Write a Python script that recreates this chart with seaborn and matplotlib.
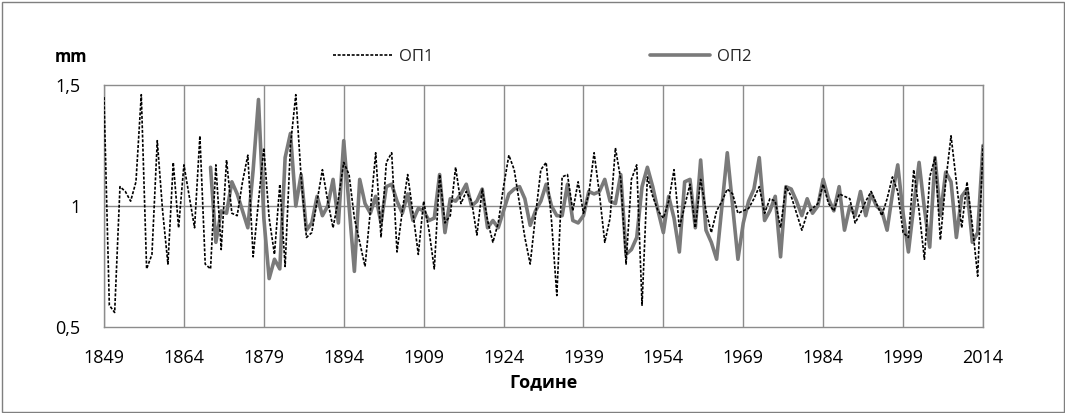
import numpy as np
import pandas as pd
import matplotlib
matplotlib.use("Agg")
import matplotlib.pyplot as plt
from matplotlib.patches import Rectangle
import seaborn as sns

# ---------------- data ----------------
years_op1 = list(range(1849, 2015))
op1 = [1.45, 0.59, 0.56, 1.08, 1.06, 1.02, 1.10, 1.46, 0.74, 0.80,   # 1849-1858
       1.27, 0.98, 0.76, 1.18, 0.91, 1.17, 1.04, 0.91, 1.29, 0.76,   # 1859-1868
       0.74, 1.17, 0.82, 1.19, 0.97, 0.96, 1.10, 1.21, 0.79, 1.02,   # 1869-1878
       1.24, 0.95, 0.80, 1.09, 0.75, 1.25, 1.46, 1.12, 0.87, 0.89,   # 1879-1888
       1.02, 1.15, 1.02, 0.91, 1.03, 1.18, 1.13, 0.95, 0.85, 0.75,   # 1889-1898
       0.98, 1.22, 0.87, 1.18, 1.22, 0.81, 0.98, 1.13, 0.97, 0.80,   # 1899-1908
       1.02, 0.90, 0.74, 1.13, 0.93, 0.96, 1.16, 1.01, 1.06, 1.02,   # 1909-1918
       0.88, 1.07, 0.94, 0.85, 0.93, 1.08, 1.21, 1.15, 1.01, 0.87,   # 1919-1928
       0.76, 0.96, 1.15, 1.18, 0.94, 0.63, 1.12, 1.13, 0.98, 1.10,   # 1929-1938
       0.97, 1.05, 1.22, 1.05, 0.85, 0.95, 1.24, 1.11, 0.76, 1.11,   # 1939-1948
       1.17, 0.59, 1.12, 1.04, 0.98, 0.95, 1.02, 1.15, 0.91, 1.00,   # 1949-1958
       1.09, 0.91, 1.11, 0.98, 0.89, 0.98, 1.02, 1.07, 1.05, 0.97,   # 1959-1968
       0.98, 0.99, 1.03, 1.08, 0.97, 1.03, 1.02, 0.91, 1.08, 1.04,   # 1969-1978
       0.97, 0.90, 0.97, 0.99, 1.01, 1.09, 1.01, 0.98, 1.05, 1.04,   # 1979-1988
       1.03, 0.93, 0.97, 1.02, 1.06, 1.01, 0.96, 1.03, 1.12, 1.06,   # 1989-1998
       0.89, 0.87, 1.15, 0.98, 0.78, 1.12, 1.20, 0.86, 1.10, 1.29,   # 1999-2008
       1.10, 0.91, 1.10, 0.92, 0.71, 1.25]                           # 2009-2014

years_op2 = list(range(1869, 2015))
op2 = [1.16, 0.85, 0.98, 0.97, 1.10, 1.05, 0.98, 0.91, 1.15, 1.44,   # 1869-1878
       0.95, 0.70, 0.78, 0.74, 1.20, 1.30, 1.00, 1.13, 0.90, 0.93,   # 1879-1888
       1.04, 0.96, 1.00, 1.11, 0.93, 1.27, 1.00, 0.73, 1.11, 1.01,   # 1889-1898
       0.97, 1.04, 0.93, 1.08, 1.09, 1.02, 0.97, 1.05, 0.94, 0.99,   # 1899-1908
       0.98, 0.94, 0.95, 1.13, 0.89, 1.03, 1.02, 1.05, 1.09, 1.00,   # 1909-1918
       1.02, 1.07, 0.91, 0.94, 0.91, 0.98, 1.05, 1.07, 1.08, 1.03,   # 1919-1928
       0.92, 0.98, 1.02, 1.09, 1.00, 0.96, 0.96, 1.09, 0.94, 0.93,   # 1929-1938
       0.96, 1.06, 1.05, 1.06, 1.11, 1.02, 1.01, 1.13, 0.80, 0.82,   # 1939-1948
       0.87, 1.08, 1.16, 1.08, 0.98, 0.89, 1.04, 0.95, 0.81, 1.10,   # 1949-1958
       1.11, 0.91, 1.19, 0.90, 0.85, 0.78, 1.00, 1.22, 1.00, 0.78,   # 1959-1968
       0.93, 1.02, 1.07, 1.20, 0.94, 0.98, 1.04, 0.79, 1.08, 1.07,   # 1969-1978
       1.02, 0.96, 1.03, 0.97, 1.00, 1.11, 1.03, 0.98, 1.08, 0.90,   # 1979-1988
       1.00, 0.96, 1.06, 0.96, 1.05, 1.00, 0.98, 0.90, 1.05, 1.17,   # 1989-1998
       0.97, 0.81, 1.00, 1.18, 0.99, 0.83, 1.20, 0.96, 1.14, 1.10,   # 1999-2008
       0.87, 1.04, 1.07, 0.85, 0.89, 1.25]                           # 2009-2014

x_ticks = [1849, 1864, 1879, 1894, 1909, 1924, 1939, 1954, 1969, 1984, 1999, 2014]
y_ticks = [0.5, 1.0, 1.5]
y_tick_labels = ["0,5", "1", "1,5"]
series_names = ["ОП1", "ОП2"]

assert len(op1) == len(years_op1)
assert len(op2) == len(years_op2)

# ---------------- style ----------------
sns.set_theme(style="white")
plt.rcParams["font.family"] = ["Open Sans", "DejaVu Sans"]

W, H = 1065, 413
fig = plt.figure(figsize=(W / 100, H / 100), dpi=100)
fig.patch.set_facecolor("white")
ax = fig.add_axes([104 / W, 1 - 327 / H, (983 - 104) / W, (327 - 85) / H])

grid_col = "#8c8c8c"
for yr in x_ticks:
    ax.axvline(yr, color=grid_col, lw=1.0, zorder=1)
ax.axhline(1.0, color=grid_col, lw=1.0, zorder=1)

df2 = pd.DataFrame({"year": years_op2, "val": op2})
df1 = pd.DataFrame({"year": years_op1, "val": op1})

sns.lineplot(data=df2, x="year", y="val", ax=ax, color="#7a7a7a", lw=2.6,
             label=series_names[1], zorder=3)
sns.lineplot(data=df1, x="year", y="val", ax=ax, color="black", lw=1.2,
             linestyle=(0, (1.8, 1.0)), label=series_names[0], zorder=4)

ax.set_xlim(1849, 2014)
ax.set_ylim(0.5, 1.5)
ax.set_xticks(x_ticks)
ax.set_xticklabels([str(t) for t in x_ticks], fontsize=13, color="black")
ax.set_yticks(y_ticks)
ax.set_yticklabels(y_tick_labels, fontsize=13, color="black")
ax.tick_params(axis="x", length=0, pad=16)
ax.tick_params(axis="y", length=0, pad=17)
ax.set_xlabel("Године", fontsize=13, fontweight="bold", color="black", labelpad=4)
ax.set_ylabel("")
for s in ax.spines.values():
    s.set_color(grid_col)
    s.set_linewidth(1.0)

# legend (ОП1 first, ОП2 second)
handles, labels = ax.get_legend_handles_labels()
order = [labels.index(series_names[0]), labels.index(series_names[1])]
ax.legend([handles[i] for i in order], [labels[i] for i in order],
          ncol=2, loc="center", bbox_to_anchor=(542 / W, 1 - 57 / H),
          bbox_transform=fig.transFigure, frameon=False, fontsize=12,
          handlelength=3.6, columnspacing=13, handletextpad=0.4)

fig.text(55 / W, 1 - 57 / H, "mm", fontsize=12, fontweight="bold",
         color="black", ha="left", va="center")

fig.patches.append(Rectangle((1.5 / W, 1.5 / H), (W - 3) / W, (H - 3) / H,
                             transform=fig.transFigure, fill=False,
                             edgecolor="#7f7f7f", lw=1.0))

fig.savefig("out.png", dpi=100, facecolor="white")
